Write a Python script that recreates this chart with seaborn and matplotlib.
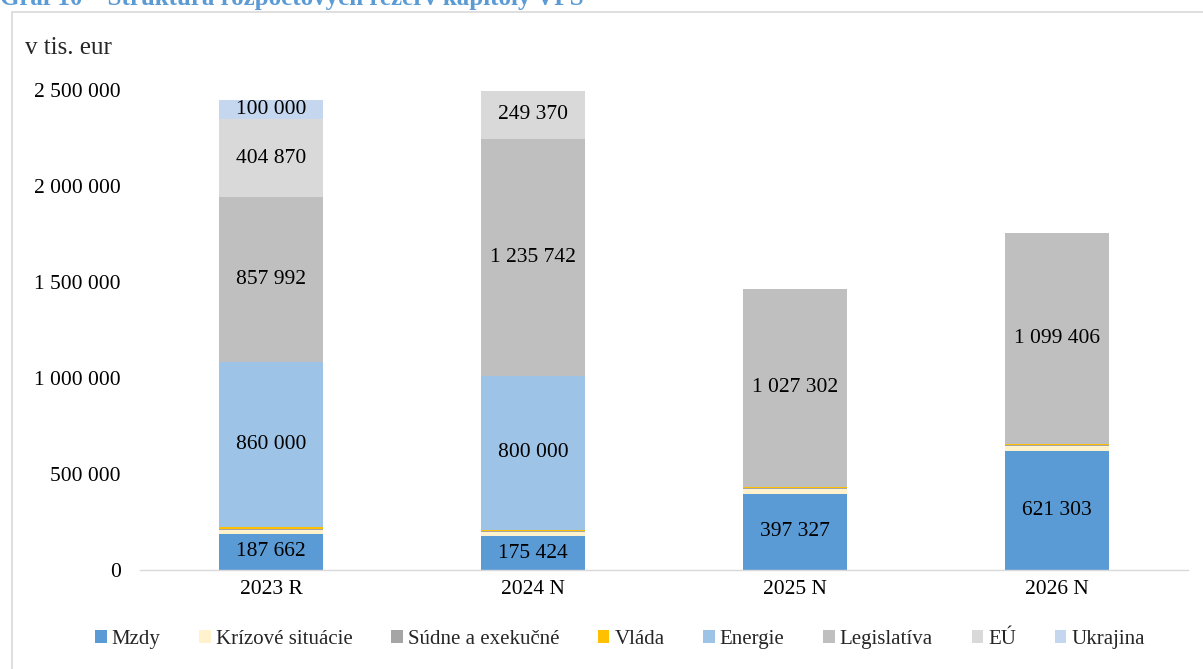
import numpy as np
import pandas as pd
import matplotlib.pyplot as plt
import seaborn as sns
from matplotlib.patches import Rectangle

# data (v tis. eur)
roky = ["2023 R", "2024 N", "2025 N", "2026 N"]
mzdy = [187662, 175424, 397327, 621303]
krizove = [22000, 24000, 25000, 23000]
sudne = [5000, 3000, 5000, 5000]
vlada = [10000, 7000, 7000, 8000]
energie = [860000, 800000, 0, 0]
legislativa = [857992, 1235742, 1027302, 1099406]
eu = [404870, 249370, 0, 0]
ukrajina = [100000, 0, 0, 0]

serie = [
    ("Mzdy", mzdy, "#5B9BD5", True),
    ("Krízové situácie", krizove, "#FFF2CC", False),
    ("Súdne a exekučné", sudne, "#A5A5A5", False),
    ("Vláda", vlada, "#FFC000", False),
    ("Energie", energie, "#9DC3E6", True),
    ("Legislatíva", legislativa, "#BFBFBF", True),
    ("EÚ", eu, "#D9D9D9", True),
    ("Ukrajina", ukrajina, "#C5D7EF", True),
]

sns.set_style("white")
plt.rcParams['font.family'] = ['Liberation Serif', 'DejaVu Serif']

fig = plt.figure(figsize=(12.03, 6.69), dpi=100)
ax = fig.add_axes([140 / 1203, 1 - 570 / 669, 1048 / 1203, 480 / 669])

bottom = np.zeros(len(roky))
for nazov, hodnoty, farba, popis in serie:
    hodnoty = np.array(hodnoty, dtype=float)
    sns.barplot(x=roky, y=hodnoty, bottom=bottom, color=farba, width=0.4,
                saturation=1, linewidth=0, ax=ax, label=nazov)
    if popis:
        for i, v in enumerate(hodnoty):
            if v > 0:
                ax.text(i, bottom[i] + v / 2, f"{int(v):,}".replace(",", " "),
                        ha="center", va="center", fontsize=15.5, color="#000000")
    bottom = bottom + hodnoty

ax.set_xlim(-0.5, 3.5)
ax.set_ylim(0, 2500000)
ax.set_yticks(np.arange(0, 2500001, 500000))
ax.set_yticklabels([f"{int(t):,}".replace(",", " ") for t in ax.get_yticks()])
ax.tick_params(axis="both", labelsize=15.5, length=0, colors="#000000")
ax.tick_params(axis="y", pad=14)
ax.tick_params(axis="x", pad=7)
ax.set_xlabel("")
ax.set_ylabel("")
for s in ["top", "right", "left"]:
    ax.spines[s].set_visible(False)
ax.spines["bottom"].set_color("#D9D9D9")
ax.spines["bottom"].set_linewidth(1)

leg = ax.legend(loc="center", bbox_to_anchor=(0.5 - 44 / 1048, -0.145), ncol=8,
                frameon=False, fontsize=15, handlelength=0.55, handleheight=0.55,
                handletextpad=0.25, columnspacing=1.85)

fig.text(25 / 1203, 1 - 48 / 669, "v tis. eur", fontsize=18, ha="left", va="center")

# ramik okolo grafu
fig.patches.append(Rectangle((12 / 1203, -0.01), 1.0, 1 - 12 / 669 + 0.01,
                             transform=fig.transFigure, fill=False,
                             edgecolor="#D9D9D9", linewidth=1.2))

# orezany nadpis (v predlohe je odrezany hornym okrajom)
fig.text(0 / 1203, 1 + 3 / 669, "Graf 10 – Štruktúra rozpočtových rezerv kapitoly VPS",
         fontsize=18, fontweight="bold", color="#5B9BD5", ha="left", va="center")

fig.savefig("out.png", dpi=100)
